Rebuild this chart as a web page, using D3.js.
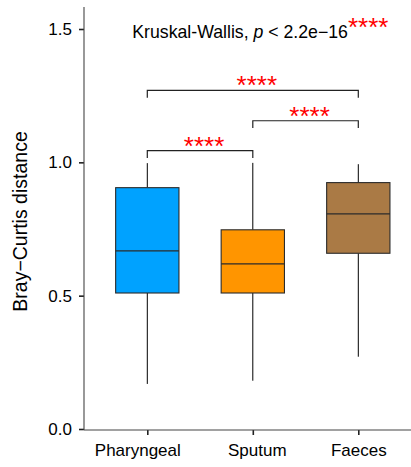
<!DOCTYPE html>
<html>
<head>
<meta charset="utf-8">
<script src="https://cdn.jsdelivr.net/npm/d3@7"></script>
<style>
  html, body { margin: 0; padding: 0; background: #fff; }
  svg { display: block; font-family: "Liberation Sans", Arial, sans-serif; }
</style>
</head>
<body>
<svg id="chart" width="411" height="467"></svg>
<script>
// ---- data ----
const categories = ["Pharyngeal", "Sputum", "Faeces"];
const whiskerLow  = [0.169, 0.181, 0.271];
const q1          = [0.510, 0.510, 0.659];
const medians     = [0.668, 0.619, 0.807];
const q3          = [0.905, 0.747, 0.924];
const whiskerHigh = [0.997, 0.998, 0.993];
const fillColors  = ["#00A2FF", "#FF9500", "#AA7A45"];
const yTicks = [0.0, 0.5, 1.0, 1.5];
const comparisons = [["Pharyngeal", "Sputum"], ["Sputum", "Faeces"], ["Pharyngeal", "Faeces"]];
const bracketLevels = [1.044, 1.156, 1.270];
const bracketLabels = ["****", "****", "****"];
const kwText = "Kruskal-Wallis, ";
const kwP = "p";
const kwRest = " < 2.2e\u221216";
const kwStars = "****";
const yTitle = "Bray\u2212Curtis distance";

// ---- layout ----
const svg = d3.select("#chart");
const panel = { left: 84, right: 411, top: 7, bottom: 430 };

const y = d3.scaleLinear().domain([0, 1.5]).range([429, 29]);
const x = d3.scalePoint().domain(categories).range([147.3, 358.3]);
const boxW = x.step() * 0.6;

const rows = categories.map((c, i) => ({
  cat: c, lo: whiskerLow[i], q1: q1[i], med: medians[i], q3: q3[i], hi: whiskerHigh[i], fill: fillColors[i]
}));

// whiskers
const g = svg.append("g");
g.selectAll("line.wlow").data(rows).join("line")
  .attr("x1", d => x(d.cat)).attr("x2", d => x(d.cat))
  .attr("y1", d => y(d.lo)).attr("y2", d => y(d.q1))
  .attr("stroke", "#000").attr("stroke-width", 1);
g.selectAll("line.whigh").data(rows).join("line")
  .attr("x1", d => x(d.cat)).attr("x2", d => x(d.cat))
  .attr("y1", d => y(d.q3)).attr("y2", d => y(d.hi))
  .attr("stroke", "#000").attr("stroke-width", 1);

// boxes
g.selectAll("rect.box").data(rows).join("rect")
  .attr("x", d => x(d.cat) - boxW / 2).attr("width", boxW)
  .attr("y", d => y(d.q3)).attr("height", d => y(d.q1) - y(d.q3))
  .attr("fill", d => d.fill).attr("stroke", "#2b2b2b").attr("stroke-width", 1.1);
g.selectAll("line.med").data(rows).join("line")
  .attr("x1", d => x(d.cat) - boxW / 2).attr("x2", d => x(d.cat) + boxW / 2)
  .attr("y1", d => y(d.med)).attr("y2", d => y(d.med))
  .attr("stroke", "#2b2b2b").attr("stroke-width", 1.3);

// brackets
const tickLen = 0.0275;
const br = comparisons.map((c, i) => ({ a: c[0], b: c[1], lvl: bracketLevels[i], lab: bracketLabels[i] }));
g.selectAll("path.br").data(br).join("path")
  .attr("d", d => `M${x(d.a)},${y(d.lvl - tickLen)}V${y(d.lvl)}H${x(d.b)}V${y(d.lvl - tickLen)}`)
  .attr("fill", "none").attr("stroke", "#222").attr("stroke-width", 1.2);
g.selectAll("text.br").data(br).join("text")
  .attr("x", d => (x(d.a) + x(d.b)) / 2 + 4)
  .attr("y", d => y(d.lvl) + 4)
  .attr("text-anchor", "middle")
  .attr("fill", "#FF0000").attr("font-size", 26)
  .text(d => d.lab);

// axes
const yAxis = d3.axisLeft(y).tickValues(yTicks).tickFormat(d3.format(".1f")).tickSize(5).tickPadding(7);
const ya = svg.append("g").attr("transform", `translate(${panel.left},0)`).call(yAxis);
ya.select(".domain").remove();
ya.selectAll(".tick line").attr("stroke", "#222").attr("stroke-width", 1.6);
ya.selectAll(".tick text").attr("font-size", 17).attr("fill", "#000")
  .attr("font-family", "Liberation Sans, Arial, sans-serif");
svg.append("line").attr("x1", panel.left).attr("x2", panel.left)
  .attr("y1", panel.top).attr("y2", panel.bottom).attr("stroke", "#444").attr("stroke-width", 1.1);

const labelShift = { Pharyngeal: -10, Sputum: 4, Faeces: 0 };
const xAxis = d3.axisBottom(x).tickSize(5).tickPadding(9);
const xa = svg.append("g").attr("transform", `translate(0,${panel.bottom})`).call(xAxis);
xa.select(".domain").remove();
xa.selectAll(".tick line").attr("stroke", "#222").attr("stroke-width", 1.6);
xa.selectAll(".tick text").attr("font-size", 17).attr("fill", "#000")
  .attr("dx", d => labelShift[d] || 0)
  .attr("font-family", "Liberation Sans, Arial, sans-serif");
svg.append("line").attr("x1", panel.left).attr("x2", panel.right)
  .attr("y1", panel.bottom).attr("y2", panel.bottom).attr("stroke", "#444").attr("stroke-width", 1.1);

// y title
svg.append("text")
  .attr("transform", `translate(27,${(panel.top + panel.bottom) / 2 + 3}) rotate(-90)`)
  .attr("text-anchor", "middle").attr("font-size", 19.5).attr("fill", "#000")
  .text(yTitle);

// Kruskal-Wallis label
const kw = svg.append("text")
  .attr("x", x(categories[0]) - 15).attr("y", 38.3)
  .attr("font-size", 17.7).attr("fill", "#000");
kw.append("tspan").text(kwText);
kw.append("tspan").attr("font-style", "italic").text(kwP);
kw.append("tspan").text(kwRest);
kw.append("tspan").attr("fill", "#FF0000").attr("font-size", 26).attr("dy", -2).text(kwStars);
</script>
</body>
</html>
